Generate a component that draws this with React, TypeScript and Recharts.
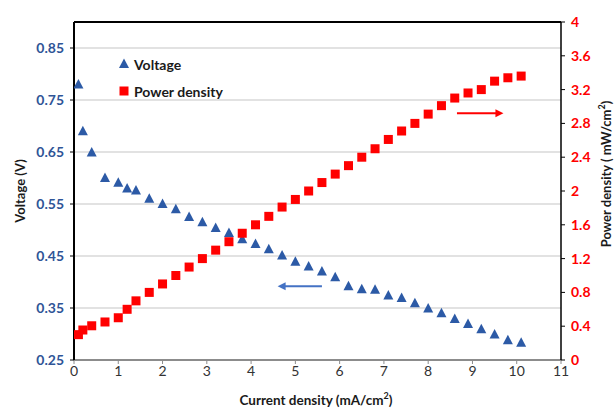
import React from "react";
import {
  ScatterChart,
  Scatter,
  XAxis,
  YAxis,
  ReferenceLine,
  Legend,
} from "recharts";

// ---- data ----
const currentDensity = [
  0.1, 0.2, 0.4, 0.7, 1.0, 1.2, 1.4, 1.7, 2.0, 2.3, 2.6, 2.9, 3.2, 3.5, 3.8, 4.1,
  4.4, 4.7, 5.0, 5.3, 5.6, 5.9, 6.2, 6.5, 6.8, 7.1, 7.4, 7.7, 8.0, 8.3, 8.6, 8.9,
  9.2, 9.5, 9.8, 10.1,
];
const voltage = [
  0.78, 0.69, 0.649, 0.6, 0.591, 0.58, 0.576, 0.56, 0.55, 0.54, 0.525, 0.515,
  0.504, 0.494, 0.482, 0.473, 0.463, 0.451, 0.439, 0.43, 0.42, 0.409, 0.392,
  0.386, 0.385, 0.374, 0.369, 0.359, 0.349, 0.34, 0.329, 0.319, 0.309, 0.299,
  0.288, 0.283,
];
const powerDensity = [
  0.3, 0.355, 0.405, 0.45, 0.5, 0.6, 0.7, 0.8, 0.9, 1.0, 1.1, 1.2, 1.3, 1.4, 1.5,
  1.6, 1.7, 1.81, 1.9, 2.0, 2.1, 2.2, 2.3, 2.4, 2.5, 2.61, 2.71, 2.8, 2.91, 3.01,
  3.1, 3.16, 3.2, 3.3, 3.34, 3.36,
];
const xTicks = [0, 1, 2, 3, 4, 5, 6, 7, 8, 9, 10, 11];
const voltageTicks = [0.25, 0.35, 0.45, 0.55, 0.65, 0.75, 0.85];
const powerTicks = [0, 0.4, 0.8, 1.2, 1.6, 2, 2.4, 2.8, 3.2, 3.6, 4];
const voltageMinorTicks = Array.from({ length: 33 }, (_, i) => +(0.25 + i * 0.02).toFixed(2));
const powerMinorTicks = Array.from({ length: 51 }, (_, i) => +(i * 0.08).toFixed(2));
const xMinorTicks = Array.from({ length: 56 }, (_, i) => +(i * 0.2).toFixed(1));
// annotation arrows (data coordinates)
const voltageArrow = { from: 5.6, to: 4.6, y: 0.392 };
const powerArrow = { from: 8.65, to: 9.7, y: 2.92 };

const voltageData = currentDensity.map((x, i) => ({ x, y: voltage[i] }));
const powerData = currentDensity.map((x, i) => ({ x, y: powerDensity[i] }));

const BLUE = "#2c5aa6";
const RED = "#ff0000";
const FONT = "Lato, 'Open Sans', sans-serif";

const Triangle = (props: any) => {
  const { cx, cy } = props;
  if (cx == null || cy == null) return null;
  return (
    <polygon
      points={`${cx},${cy - 5.5} ${cx + 5},${cy + 4} ${cx - 5},${cy + 4}`}
      fill={BLUE}
    />
  );
};

const Square = (props: any) => {
  const { cx, cy } = props;
  if (cx == null || cy == null) return null;
  return <rect x={cx - 4.5} y={cy - 4.5} width={9} height={9} fill={RED} />;
};

const arrowShape = (color: string) => (props: any) => {
  const { x1, y1, x2, y2 } = props;
  if (x1 == null) return null;
  const dir = x2 > x1 ? 1 : -1;
  return (
    <g>
      <line x1={x1} y1={y1} x2={x2 - dir * 6} y2={y2} stroke={color} strokeWidth={2} />
      <polygon
        points={`${x2},${y2} ${x2 - dir * 8},${y2 - 4} ${x2 - dir * 8},${y2 + 4}`}
        fill={color}
      />
    </g>
  );
};

const LeftTitle = () => (
  <text
    x={20}
    y={191}
    transform="rotate(-90, 20, 191)"
    textAnchor="middle"
    dominantBaseline="central"
    fontFamily={FONT}
    fontWeight="bold"
    fontSize={13}
    fill="#1a1a1a"
  >
    Voltage (V)
  </text>
);

const RightTitle = () => (
  <text
    x={606}
    y={174}
    transform="rotate(-90, 606, 174)"
    textAnchor="middle"
    dominantBaseline="central"
    fontFamily={FONT}
    fontWeight="bold"
    fontSize={13}
    fill="#1a1a1a"
  >
    Power density ( mW/cm
    <tspan fontSize={9} dy={-5}>2</tspan>
    <tspan dy={5}>)</tspan>
  </text>
);

const BottomTitle = () => (
  <text
    x={316}
    y={400}
    textAnchor="middle"
    dominantBaseline="central"
    fontFamily={FONT}
    fontWeight="bold"
    fontSize={13.5}
    fill="#1a1a1a"
  >
    Current density (mA/cm
    <tspan fontSize={9} dy={-5}>2</tspan>
    <tspan dy={5}>)</tspan>
  </text>
);

const LegendContent = () => (
  <div style={{ fontFamily: FONT, fontSize: 14, fontWeight: "bold", color: "#1a1a1a" }}>
    <div style={{ display: "flex", alignItems: "center", height: 20, marginBottom: 7 }}>
      <svg width={12} height={12} style={{ marginRight: 4 }}>
        <polygon points="6,0.5 11,10 1,10" fill={BLUE} />
      </svg>
      Voltage
    </div>
    <div style={{ display: "flex", alignItems: "center", height: 20 }}>
      <svg width={12} height={12} style={{ marginRight: 4 }}>
        <rect x={1.5} y={1.5} width={9} height={9} fill={RED} />
      </svg>
      Power density
    </div>
  </div>
);

export default function App() {
  return (
    <div style={{ position: "absolute", left: 0, top: 0, background: "#fff" }}>
      <ScatterChart
        width={615}
        height={408}
        margin={{ top: 22, right: 10, bottom: 18, left: 14 }}
      >
        <XAxis
          type="number"
          dataKey="x"
          domain={[0, 11]}
          ticks={xTicks}
          allowDataOverflow
          axisLine={{ stroke: "#8c8c8c", strokeWidth: 2 }}
          tickLine={{ stroke: "#8c8c8c" }}
          tickSize={4}
          tick={{ fill: "#333", fontSize: 14, fontFamily: FONT }}
          height={30}
          label={<BottomTitle />}
        />
        <XAxis
          xAxisId="minor"
          type="number"
          dataKey="x"
          domain={[0, 11]}
          ticks={xMinorTicks}
          allowDataOverflow
          axisLine={false}
          tickLine={{ stroke: "#8c8c8c" }}
          tickSize={4}
          tick={false}
          height={0}
        />
        <YAxis
          yAxisId="left"
          type="number"
          dataKey="y"
          domain={[0.25, 0.9]}
          ticks={voltageTicks}
          allowDataOverflow
          axisLine={{ stroke: "#000", strokeWidth: 2 }}
          tickLine={{ stroke: "#000" }}
          tickSize={4}
          tickMargin={6}
          tick={{ fill: "#2f5597", fontSize: 14, fontWeight: "bold", fontFamily: FONT }}
          tickFormatter={(v: number) => v.toFixed(2)}
          width={60}
          label={<LeftTitle />}
        />
        <YAxis
          yAxisId="leftMinor"
          type="number"
          domain={[0.25, 0.9]}
          ticks={voltageMinorTicks}
          allowDataOverflow
          axisLine={false}
          tickLine={{ stroke: "#000" }}
          tickSize={4}
          tick={false}
          width={0}
        />
        <YAxis
          yAxisId="right"
          orientation="right"
          type="number"
          dataKey="y"
          domain={[0, 4]}
          ticks={powerTicks}
          allowDataOverflow
          axisLine={{ stroke: "#000", strokeWidth: 1.5 }}
          tickLine={{ stroke: "#000" }}
          tickSize={4}
          tickMargin={6}
          tick={{ fill: RED, fontSize: 14, fontWeight: "bold", fontFamily: FONT }}
          width={44}
          label={<RightTitle />}
        />
        <YAxis
          yAxisId="rightMinor"
          orientation="right"
          type="number"
          domain={[0, 4]}
          ticks={powerMinorTicks}
          allowDataOverflow
          axisLine={false}
          tickLine={{ stroke: "#000" }}
          tickSize={4}
          tick={false}
          width={0}
        />
        {voltageTicks.slice(1).map((t) => (
          <ReferenceLine key={t} yAxisId="left" y={t} stroke="#d9d9d9" strokeWidth={1.5} />
        ))}
        <ReferenceLine yAxisId="left" y={0.9} stroke="#000" strokeWidth={2} />
        <ReferenceLine
          yAxisId="left"
          segment={[
            { x: voltageArrow.from, y: voltageArrow.y },
            { x: voltageArrow.to, y: voltageArrow.y },
          ]}
          shape={arrowShape("#4472c4")}
        />
        <ReferenceLine
          yAxisId="right"
          segment={[
            { x: powerArrow.from, y: powerArrow.y },
            { x: powerArrow.to, y: powerArrow.y },
          ]}
          shape={arrowShape(RED)}
        />
        <Scatter
          name="Voltage"
          yAxisId="left"
          data={voltageData}
          shape={<Triangle />}
          isAnimationActive={false}
        />
        <Scatter
          name="Power density"
          yAxisId="right"
          data={powerData}
          shape={<Square />}
          isAnimationActive={false}
        />
        <Legend
          layout="vertical"
          align="center"
          verticalAlign="middle"
          content={<LegendContent />}
          wrapperStyle={{ position: "absolute", left: 118, top: 54, width: 150, height: 60 }}
        />
      </ScatterChart>
    </div>
  );
}
